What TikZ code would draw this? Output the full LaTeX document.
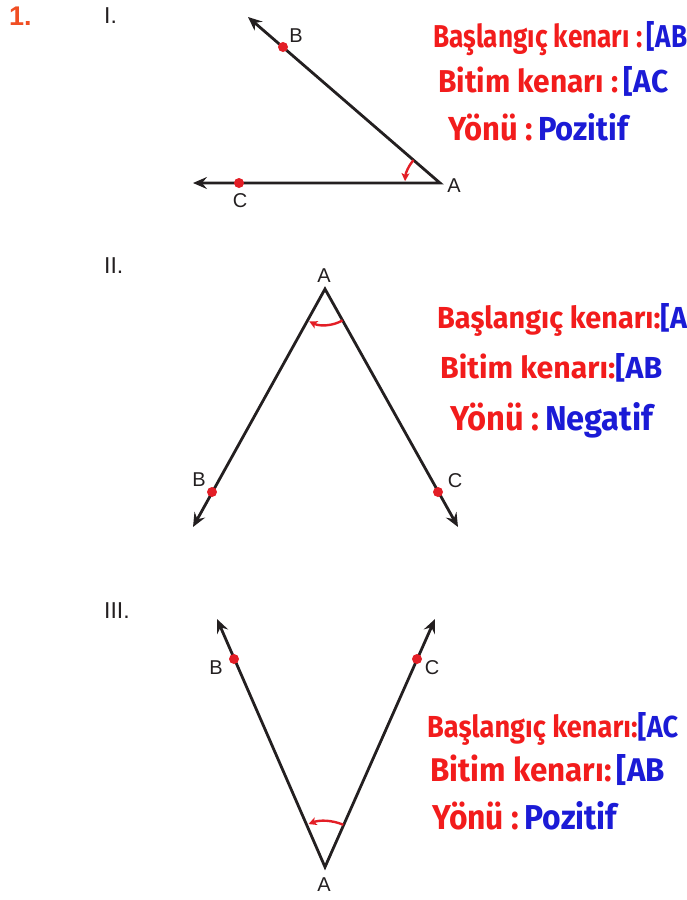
\documentclass[tikz,border=0pt]{standalone}
\usepackage{fontspec}
\usepackage{graphicx}
\setmainfont{Liberation Sans}
\newfontfamily\handfont{Fira Sans}
\usetikzlibrary{arrows.meta}
\definecolor{hred}{HTML}{F21C1C}
\definecolor{hblue}{HTML}{1B1BD6}
\definecolor{dotred}{HTML}{E31E26}
\definecolor{numor}{HTML}{F04E23}
\definecolor{ink}{HTML}{231F20}
\newcommand{\hw}[3]{\resizebox{#1}{#2}{\handfont\bfseries #3}}
\newcommand{\rt}[1]{{\color{hred}#1}}
\newcommand{\bt}[1]{{\color{hblue}#1}}
\begin{document}
\begin{tikzpicture}[x=1pt,y=-1pt,
  raypath/.style={draw=ink, line width=2.8pt, line join=miter,
    {Stealth[length=14pt,width=12pt,inset=5pt]}-{Stealth[length=14pt,width=12pt,inset=5pt]}},
  pointdot/.style={circle, fill=dotred, inner sep=0pt, minimum size=10pt},
  ptlabel/.style={font=\fontsize{20}{20}\selectfont, text=ink, inner sep=0pt},
  numeral/.style={font=\fontsize{23}{23}\selectfont, text=ink, inner sep=0pt, anchor=base west},
  anglearc/.style={draw=dotred, line width=2.4pt, -{Stealth[length=8pt,width=8pt,inset=2pt]}},
  handtext/.style={inner sep=0pt, anchor=base west}
]
\useasboundingbox (0,0) rectangle (687,900);

% header
\node[font=\fontsize{27}{27}\selectfont\bfseries, text=numor, inner sep=0pt, anchor=base west] (num) at (9,25) {1.};

% ---------- I ----------
\node[numeral] (r1) at (104,23) {I.};
\coordinate (A1) at (440,183);
\coordinate (B1t) at (248,17);
\coordinate (C1t) at (193,183);
\draw[raypath] (B1t) -- (A1) -- (C1t);
\node[pointdot] (B1) at (283,47) {};
\node[pointdot] (C1) at (239,183) {};
\node[ptlabel] (lB1) at (296,36) {B};
\node[ptlabel] (lC1) at (240,201) {C};
\node[ptlabel] (lA1) at (454,186) {A};
\draw[anglearc] ([shift={(-139.2:35)}]A1) arc[start angle=-139.2, end angle=-177, radius=35];

\node[handtext] (t11) at (433,47) {\hw{254pt}{26pt}{\rt{Başlangıç kenarı :\,}\bt{[AB}}};
\node[handtext] (t12) at (438,92) {\hw{230pt}{26pt}{\rt{Bitim kenarı :\,}\bt{[AC}}};
\node[handtext] (t13) at (448,140) {\hw{180pt}{27pt}{\rt{Yönü :\,}\bt{Pozitif}}};

% ---------- II ----------
\node[numeral] (r2) at (104,273) {II.};
\coordinate (A2) at (325,289);
\coordinate (B2t) at (193,527);
\coordinate (C2t) at (458,527);
\draw[raypath] (B2t) -- (A2) -- (C2t);
\node[pointdot] (B2) at (212,492) {};
\node[pointdot] (C2) at (438,492) {};
\node[ptlabel] (lA2) at (324,276) {A};
\node[ptlabel] (lB2) at (199,480) {B};
\node[ptlabel] (lC2) at (455,481) {C};
\draw[anglearc] ([shift={(60.8:36)}]A2) arc[start angle=60.8, end angle=116, radius=36];

\node[handtext] (t21) at (437,328) {\hw{250pt}{25pt}{\rt{Başlangıç kenarı:}\bt{[A}}};
\node[handtext] (t22) at (440,378) {\hw{222pt}{25pt}{\rt{Bitim kenarı:}\bt{[AB}}};
\node[handtext] (t23) at (450,430) {\hw{203pt}{28pt}{\rt{Yönü :\,}\bt{Negatif}}};

% ---------- III ----------
\node[numeral] (r3) at (104,618) {III.};
\coordinate (A3) at (325,867);
\coordinate (B3t) at (217,619);
\coordinate (C3t) at (435,619);
\draw[raypath] (B3t) -- (A3) -- (C3t);
\node[pointdot] (B3) at (234,659) {};
\node[pointdot] (C3) at (417,659) {};
\node[ptlabel] (lB3) at (216,668) {B};
\node[ptlabel] (lC3) at (432,668) {C};
\node[ptlabel] (lA3) at (324,885) {A};
\draw[anglearc] ([shift={(-66.5:46)}]A3) arc[start angle=-66.5, end angle=-111, radius=46];

\node[handtext] (t31) at (427,737) {\hw{251pt}{25pt}{\rt{Başlangıç kenarı:}\bt{[AC}}};
\node[handtext] (t32) at (430,781) {\hw{235pt}{27pt}{\rt{Bitim kenarı:\,}\bt{[AB}}};
\node[handtext] (t33) at (432,829) {\hw{185pt}{28pt}{\rt{Yönü :\,}\bt{Pozitif}}};
\end{tikzpicture}
\end{document}
